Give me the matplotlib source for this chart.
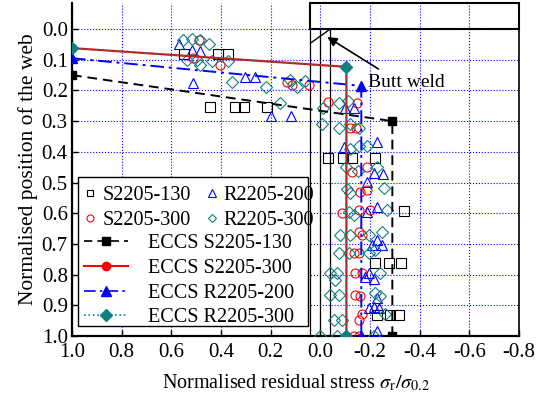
import matplotlib
matplotlib.use('Agg')
import matplotlib.pyplot as plt
from matplotlib.patches import Rectangle
from matplotlib.lines import Line2D

plt.rcParams['font.family'] = ['Liberation Serif', 'DejaVu Serif']
plt.rcParams['mathtext.fontset'] = 'stix'
plt.rcParams['axes.unicode_minus'] = False

# measured residual stress (x) against position along the web (y)
s130_x = [0.548, 0.414, 0.37, 0.444, 0.343, 0.309, 0.215,
          -0.03, -0.09, -0.128, -0.222, -0.336,
          -0.222, -0.275, -0.325, -0.228, -0.28, -0.316]
s130_y = [0.08, 0.08, 0.08, 0.253, 0.253, 0.253, 0.253,
          0.421, 0.421, 0.421, 0.421, 0.592,
          0.761, 0.761, 0.761, 0.932, 0.932, 0.932]

s300_x = [0.49, 0.511, 0.403, 0.134, 0.114, 0.047,
          -0.032, -0.148, -0.121, -0.145, -0.128, -0.188, -0.161, -0.188,
          -0.087, -0.154, -0.202, -0.154, -0.168, -0.134, -0.154,
          -0.141, -0.168, -0.141, -0.16, -0.154, -0.168, -0.134, -0.154]
s300_y = [0.036, 0.095, 0.117, 0.172, 0.182, 0.182,
          0.237, 0.24, 0.323, 0.323, 0.465, 0.448, 0.53, 0.524,
          0.60, 0.59, 0.59, 0.66, 0.671, 0.73, 0.73,
          0.796, 0.796, 0.866, 0.87, 0.948, 0.93, 1.0, 1.0]

r200_x = [0.571, 0.517, 0.484, 0.511, 0.302, 0.262, 0.199, 0.117,
          -0.10, -0.137, -0.094, -0.228, -0.215, -0.253, -0.188,
          -0.188, -0.23, -0.228, -0.249, -0.208, -0.181, -0.215, -0.195,
          -0.195, -0.215, -0.235, -0.228, -0.228]
r200_y = [0.05, 0.068, 0.072, 0.177, 0.155, 0.155, 0.283, 0.283,
          0.258, 0.258, 0.383, 0.367, 0.47, 0.472, 0.497,
          0.595, 0.58, 0.687, 0.704, 0.704, 0.807, 0.815, 0.796,
          0.91, 0.905, 0.91, 0.877, 0.985]

r300_x = [0.551, 0.517, 0.484, 0.45, 0.538, 0.497, 0.484, 0.437, 0.37,
          0.356, 0.218, 0.164, 0.121, 0.094, 0.06,
          -0.011, -0.007, -0.074, -0.11, -0.074, -0.121, -0.154,
          -0.121, -0.154, -0.188, -0.105, -0.15, -0.228, -0.255, -0.108,
          -0.121, -0.114, -0.134, -0.269, -0.081, -0.121, -0.195, -0.249,
          -0.074, -0.114, -0.195, -0.222, -0.04, -0.067, -0.06, -0.242,
          -0.04, -0.074, -0.222, -0.24, -0.054, -0.087, -0.26,
          0.0, -0.067, -0.215]
r300_y = [0.036, 0.033, 0.036, 0.047, 0.101, 0.101, 0.117, 0.104, 0.104,
          0.172, 0.188, 0.242, 0.166, 0.188, 0.169,
          0.258, 0.31, 0.24, 0.233, 0.323, 0.309, 0.323,
          0.392, 0.381, 0.381, 0.448, 0.461, 0.448, 0.519, 0.52,
          0.535, 0.595, 0.606, 0.59, 0.671, 0.671, 0.671, 0.66,
          0.73, 0.73, 0.73, 0.72, 0.796, 0.796, 0.818, 0.796,
          0.866, 0.866, 0.86, 0.87, 0.948, 0.948, 0.93,
          1.0, 1.0, 1.0]

# ECCS residual stress models
eccs_s130_x = [1.0, -0.29, -0.29]
eccs_s130_y = [0.15, 0.30, 1.0]
eccs_s300_x = [1.0, -0.105, -0.105]
eccs_s300_y = [0.062, 0.123, 1.0]
eccs_r200_x = [1.0, -0.165, -0.165]
eccs_r200_y = [0.095, 0.185, 1.0]
eccs_r300_x = [1.0, -0.105, -0.105]
eccs_r300_y = [0.062, 0.123, 1.0]

teal = '#0f8080'

fig = plt.figure(figsize=(5.47, 3.99), dpi=100)
ax = fig.add_axes([0.1316, 0.158, 0.8172, 0.8345])

ms = 6.5
ax.plot(s130_x, s130_y, 's', ms=ms, mfc='none', mec='k', mew=0.8, zorder=3)
ax.plot(s300_x, s300_y, 'o', ms=ms, mfc='none', mec='red', mew=0.8, zorder=3)
ax.plot(r200_x, r200_y, '^', ms=ms + 0.5, mfc='none', mec='blue', mew=0.8, zorder=3)
ax.plot(r300_x, r300_y, 'D', ms=ms - 0.8, mfc='none', mec=teal, mew=0.8, zorder=3)

ax.plot(eccs_s130_x, eccs_s130_y, '--s', color='k', lw=1.4, ms=6, dashes=(5, 3), zorder=4)
ax.plot(eccs_s300_x, eccs_s300_y, '-o', color='red', lw=1.5, ms=6, zorder=4)
ax.plot(eccs_r200_x, eccs_r200_y, '-.^', color='blue', lw=1.4, ms=7,
        dashes=(7, 2.5, 1.5, 2.5), zorder=4)
ax.plot(eccs_r300_x, eccs_r300_y, ':D', color=teal, lw=1.3, ms=6, zorder=5)

# sketch of the flange, web and butt weld
ax.add_patch(Rectangle((0.04, -0.085), -0.84, 0.085, fill=False, ec='k', lw=1.5,
                       clip_on=False, zorder=6))
for wx in (0.04, 0.0, -0.04):
    ax.plot([wx, wx], [0.0, 1.0], color='k', lw=0.9, zorder=2)
ax.plot([0.04, -0.04], [0.046, 0.0], color='k', lw=1.0, zorder=2)
ax.annotate('', xy=(-0.028, 0.026), xytext=(-0.234, 0.13),
            arrowprops=dict(arrowstyle='-|>', color='k', lw=1.2,
                            shrinkA=0, shrinkB=0, mutation_scale=14))
ax.text(-0.19, 0.175, 'Butt weld', fontsize=14, va='center', ha='left')

ax.set_xlim(1.0, -0.8)
ax.set_ylim(1.0, -0.085)
ax.set_xticks([1.0, 0.8, 0.6, 0.4, 0.2, 0.0, -0.2, -0.4, -0.6, -0.8])
ax.set_yticks([i / 10 for i in range(11)])
ax.xaxis.set_major_formatter(plt.FormatStrFormatter('%.1f'))
ax.yaxis.set_major_formatter(plt.FormatStrFormatter('%.1f'))
ax.grid(True, color='blue', ls=':', lw=0.8)
ax.set_axisbelow(True)
ax.tick_params(direction='in', length=4, width=1, labelsize=15)
ax.tick_params(axis='x', pad=5)
ax.tick_params(axis='y', pad=3)
ax.spines['top'].set_visible(False)
ax.spines['left'].set_linewidth(1.6)
ax.spines['bottom'].set_linewidth(1.6)
ax.spines['right'].set_linewidth(1.2)

ax.set_xlabel(r'Normalised residual stress $\sigma_{\rm r}/\sigma_{0.2}$', fontsize=14.5, labelpad=8)
ax.set_ylabel('Normalised position of the web', fontsize=15.5, labelpad=3)

# legend frame shared by the two legend blocks
ax.add_patch(Rectangle((0.0134, 0.030), 0.5146, 0.447, transform=ax.transAxes,
                       fc='white', ec='k', lw=1.0, zorder=7))

pts = [Line2D([], [], ls='none', marker='s', ms=5, mfc='none', mec='k', mew=0.8),
       Line2D([], [], ls='none', marker='o', ms=5, mfc='none', mec='red', mew=0.8),
       Line2D([], [], ls='none', marker='^', ms=5.5, mfc='none', mec='blue', mew=0.8),
       Line2D([], [], ls='none', marker='D', ms=4.5, mfc='none', mec=teal, mew=0.8)]
leg1 = ax.legend(pts, ['S2205-130', 'S2205-300', 'R2205-200', 'R2205-300'],
                 ncol=2, loc='upper left', bbox_to_anchor=(0.027, 0.450),
                 frameon=False, fontsize=14.5, handlelength=0.6, handletextpad=0.3,
                 columnspacing=0.75, labelspacing=0.28, borderpad=0, borderaxespad=0)
leg1.set_zorder(8)
ax.add_artist(leg1)

lines = [Line2D([], [], color='k', ls='--', dashes=(5, 3), lw=1.2, marker='s', ms=6),
         Line2D([], [], color='red', ls='-', lw=1.5, marker='o', ms=6),
         Line2D([], [], color='blue', ls='-.', dashes=(7, 2.5, 1.5, 2.5), lw=1.2, marker='^', ms=6.5),
         Line2D([], [], color=teal, ls=':', lw=1.2, marker='D', ms=6)]
leg2 = ax.legend(lines, ['ECCS S2205-130', 'ECCS S2205-300', 'ECCS R2205-200', 'ECCS R2205-300'],
                 loc='upper left', bbox_to_anchor=(0.027, 0.306), frameon=False,
                 fontsize=14.5, handlelength=2.2, handletextpad=1.0, labelspacing=0.28,
                 borderpad=0, borderaxespad=0)
leg2.set_zorder(8)

fig.savefig('out.png', dpi=100)
